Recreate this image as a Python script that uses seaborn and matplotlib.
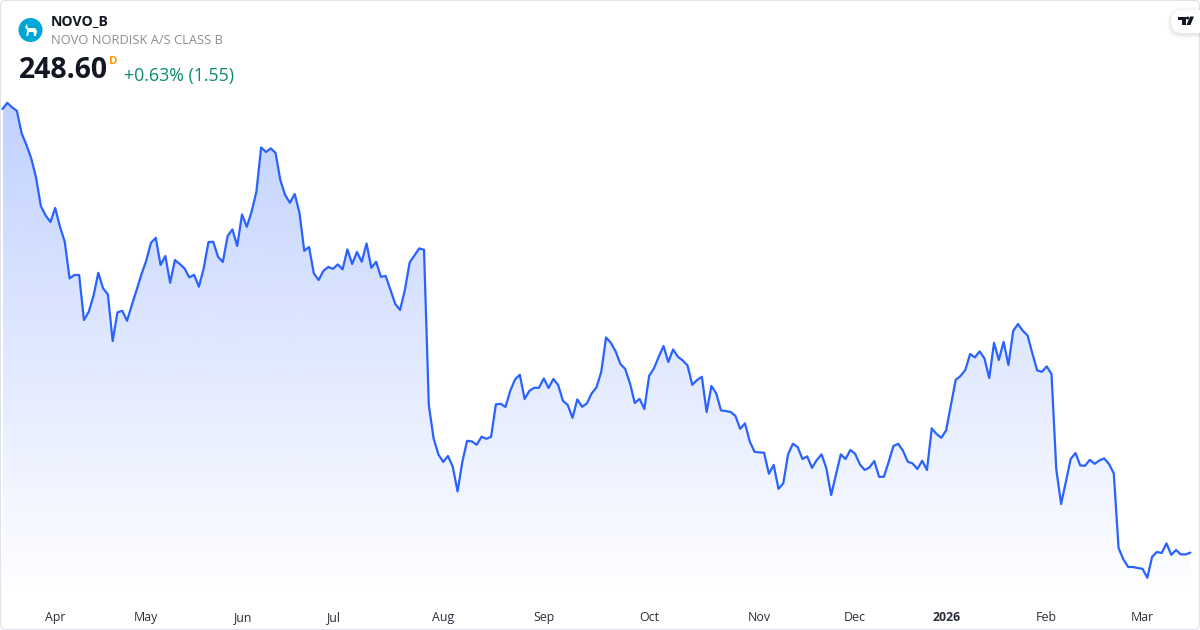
import numpy as np
import matplotlib
matplotlib.use("Agg")
import matplotlib.pyplot as plt
from matplotlib.colors import LinearSegmentedColormap
from matplotlib.patches import Circle, FancyBboxPatch, Polygon
import seaborn as sns

# daily closes
closes = [
    470.4, 473.5, 471.2, 469.5, 458.2, 452.4, 445.7, 436.2, 421.9, 417.2,
    413.9, 420.9, 411.5, 404.0, 385.7, 387.4, 387.4, 364.9, 369.0, 377.0,
    388.5, 380.7, 377.7, 354.4, 368.7, 369.5, 364.5, 372.4, 379.9, 387.7,
    394.5, 403.5, 406.0, 392.4, 396.9, 383.5, 394.9, 392.9, 390.7, 386.2,
    387.5, 381.5, 390.7, 403.9, 404.0, 396.5, 393.9, 406.9, 410.2, 401.9,
    417.7, 411.5, 419.0, 429.0, 451.2, 448.9, 450.7, 448.5, 434.9, 427.4,
    423.5, 427.9, 418.5, 399.5, 401.4, 388.2, 384.9, 389.5, 391.4, 390.5,
    392.7, 390.2, 400.2, 392.9, 398.9, 394.0, 403.2, 391.0, 394.0, 386.5,
    386.9, 379.9, 372.9, 369.9, 379.9, 393.7, 397.2, 400.7, 400.0, 322.4,
    305.7, 297.7, 293.9, 296.9, 291.5, 279.2, 294.0, 304.5, 304.2, 302.5,
    306.5, 305.5, 306.5, 322.7, 323.0, 321.4, 329.5, 335.2, 337.5, 325.4,
    329.5, 331.0, 331.0, 335.7, 330.9, 335.4, 332.4, 324.5, 322.4, 316.0,
    325.2, 321.5, 323.2, 328.2, 331.2, 339.0, 356.2, 353.5, 349.2, 342.9,
    340.4, 333.2, 323.4, 325.5, 320.4, 337.0, 340.7, 346.5, 351.9, 343.9,
    350.2, 346.5, 344.7, 342.2, 332.5, 334.9, 336.5, 318.9, 331.9, 328.2,
    319.7, 319.4, 318.9, 317.0, 310.5, 313.2, 304.2, 299.0, 298.7, 298.5,
    288.0, 292.4, 280.5, 283.2, 297.7, 303.0, 301.4, 295.4, 296.7, 291.0,
    294.9, 297.7, 290.7, 277.4, 287.5, 297.7, 295.4, 299.9, 298.0, 292.7,
    289.9, 291.2, 294.4, 286.5, 286.5, 293.9, 301.9, 303.0, 299.5, 294.0,
    293.2, 290.4, 294.5, 289.9, 310.7, 307.9, 306.0, 309.7, 322.4, 335.0,
    336.9, 339.9, 347.9, 346.2, 349.2, 345.7, 335.9, 353.5, 344.9, 354.0,
    342.4, 359.4, 362.9, 359.5, 357.2, 348.2, 339.7, 339.0, 341.7, 337.9,
    290.2, 272.9, 284.0, 295.4, 298.4, 292.2, 292.0, 295.0, 293.0, 294.7,
    295.7, 292.9, 288.2, 250.9, 245.2, 241.4, 241.4, 240.9, 240.5, 236.0,
    246.5, 248.9, 248.4, 253.2, 247.5, 249.9, 247.7, 247.7, 248.6,
]
month_pos = [11, 30, 50, 69, 92, 113, 135, 158, 178, 197, 218, 238]
month_labels = ["Apr", "May", "Jun", "Jul", "Aug", "Sep", "Oct", "Nov", "Dec", "2026", "Feb", "Mar"]

sessions = np.arange(len(closes))
px_per_session = 4.79
y_low, y_high = 224.9, 524.9

sns.set_style("white")
plt.rcParams["font.family"] = ["Open Sans", "DejaVu Sans"]

fig = plt.figure(figsize=(12, 6.3), dpi=100)
fig.patch.set_facecolor("white")
ax = fig.add_axes([0, 30 / 630, 1, 600 / 630])

# fill under the line, fades out towards the time axis
fade = LinearSegmentedColormap.from_list(
    "fade", [(41 / 255, 98 / 255, 1, 0.29), (41 / 255, 98 / 255, 1, 0.0)]
)
band = ax.fill_between(sessions, closes, y_low, facecolor="none", edgecolor="none")
grad = ax.imshow(
    np.linspace(0, 1, 256).reshape(-1, 1),
    cmap=fade,
    vmin=0,
    vmax=1,
    aspect="auto",
    extent=[sessions[0], sessions[-1], y_low, max(closes)],
    zorder=1,
)
grad.set_clip_path(band.get_paths()[0], transform=ax.transData)

sns.lineplot(x=sessions, y=closes, ax=ax, color="#2962ff", linewidth=1.6, zorder=2)

ax.set_xlim(-2.5 / px_per_session, 1197.5 / px_per_session)
ax.set_ylim(y_low, y_high)
ax.set_yticks([])
ax.set_xticks(month_pos)
ax.set_xticklabels(month_labels, fontsize=8.9, color="#2a2e39")
ax.tick_params(axis="x", length=0, pad=8)
for lab in ax.get_xticklabels():
    if lab.get_text() == "2026":
        lab.set_fontweight("bold")
sns.despine(ax=ax, left=True, bottom=True, top=True, right=True)
ax.patch.set_alpha(0)

# overlay in pixel units for the header, card border and badges
ov = fig.add_axes([0, 0, 1, 1])
ov.set_xlim(0, 1200)
ov.set_ylim(630, 0)
ov.axis("off")
ov.patch.set_alpha(0)

ov.add_patch(FancyBboxPatch((0.5, 0.5), 1199, 629, boxstyle="round,pad=0,rounding_size=5",
                            facecolor="none", edgecolor="#e0e3eb", linewidth=0.8))

# logo
ov.add_patch(Circle((30.5, 30), 12, facecolor="#00a7d6", edgecolor="none"))
ov.add_patch(Polygon([(25, 27), (27, 24), (28, 28), (35, 28), (37, 31), (36, 36), (34, 36),
                      (33.5, 32), (29, 32), (28, 36), (26.5, 36), (27, 30)],
                     facecolor="white", edgecolor="none"))

ov.text(51, 21, "NOVO_B", fontsize=10.1, fontweight="bold", color="#131722", va="center")
ov.text(51, 40.5, "NOVO NORDISK A/S CLASS B", fontsize=9.3, color="#8b8e97", va="center")
ov.text(19, 71, "248.60", fontsize=20.4, fontweight="bold", color="#131722", va="center")
ov.text(109, 61.5, "D", fontsize=8.2, fontweight="bold", color="#ff9800", va="center")
ov.text(124, 75.5, "+0.63% (1.55)", fontsize=12.8, color="#0b8a72", va="center")

# TradingView badge
for grow, alpha in zip([4, 3, 2, 1], [0.012, 0.018, 0.025, 0.03]):
    ov.add_patch(FancyBboxPatch((1171 - grow, 10 - grow + 1.5), 60 + 2 * grow, 23 + 2 * grow,
                                boxstyle="round,pad=0,rounding_size=%.1f" % (11 + grow),
                                facecolor="black", edgecolor="none", alpha=alpha, clip_on=True))
ov.add_patch(FancyBboxPatch((1171, 10), 60, 23, boxstyle="round,pad=0,rounding_size=11",
                            facecolor="white", edgecolor="none"))
ov.add_patch(Polygon([(1177.5, 16.5), (1186, 16.5), (1186, 25), (1182, 25), (1182, 19.5), (1177.5, 19.5)],
                     facecolor="#131722", edgecolor="none"))
ov.add_patch(Circle((1187.5, 18), 1.5, facecolor="#131722", edgecolor="none"))
ov.add_patch(Polygon([(1190, 16.5), (1194, 16.5), (1190.5, 25), (1186.5, 25)],
                     facecolor="#131722", edgecolor="none"))

fig.savefig("out.png", dpi=100)
